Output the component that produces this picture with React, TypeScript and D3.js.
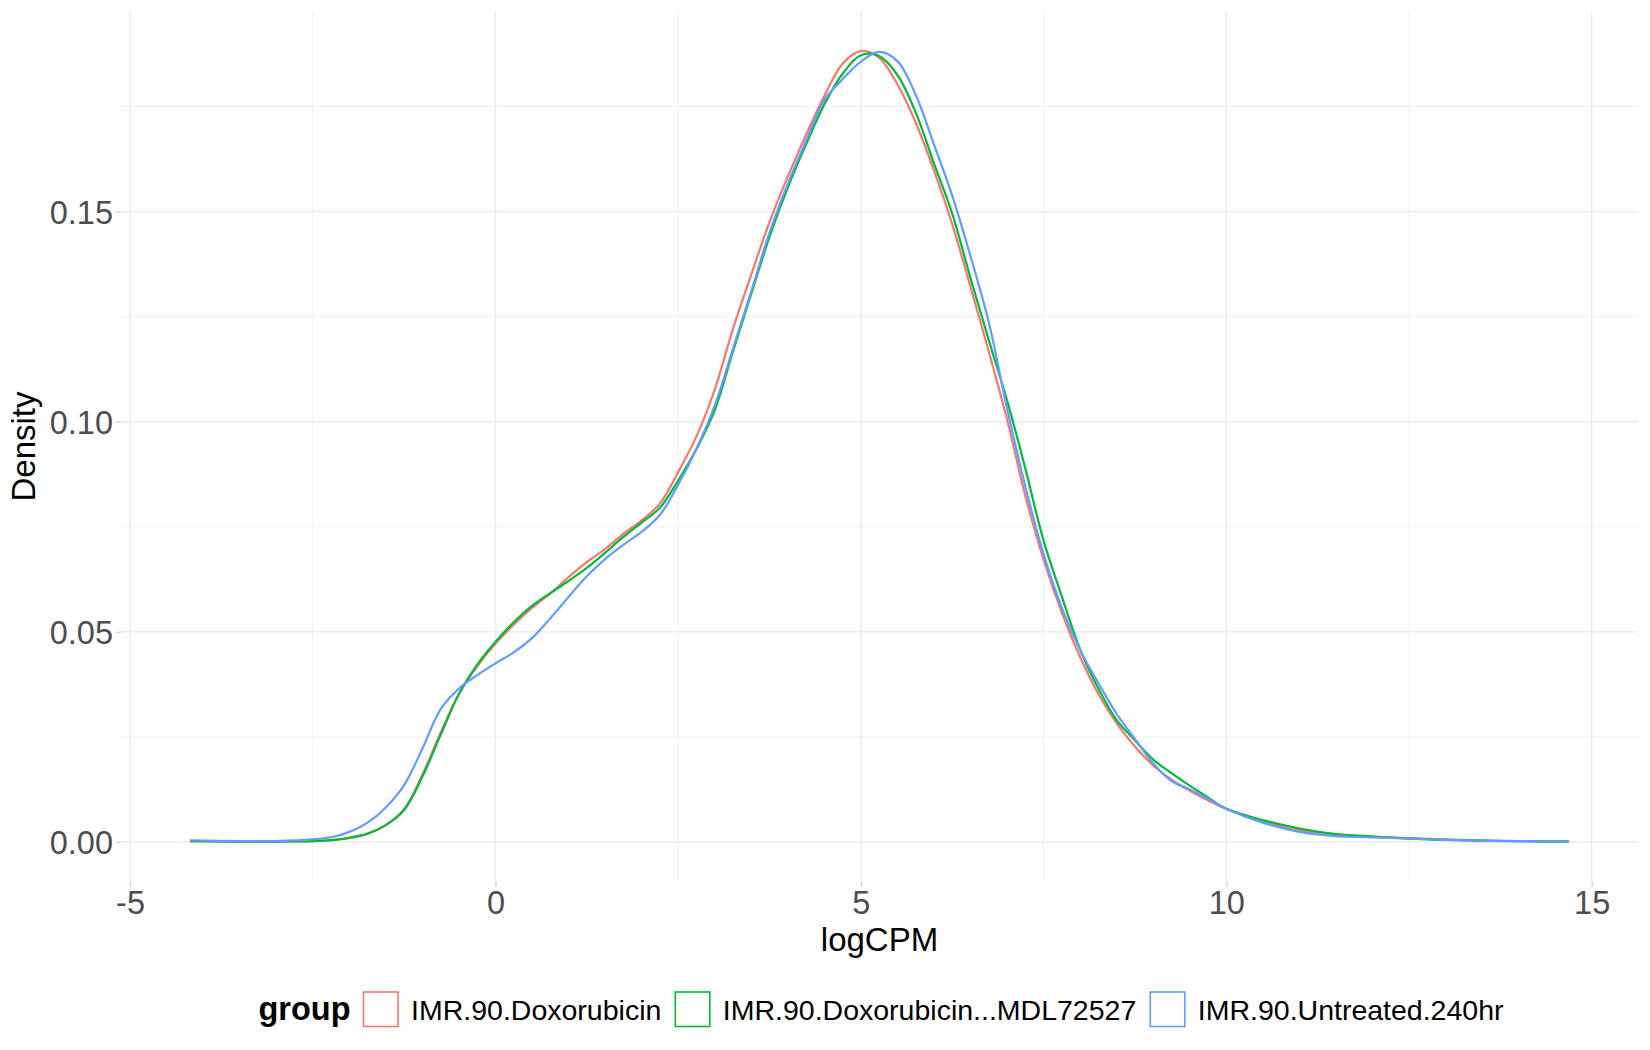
import React, { useEffect, useRef } from 'react';
import * as d3 from 'd3';

// logCPM grid shared by the three density curves
const logCPM = [
    -4.18, -3.5, -3, -2.5, -2.2, -2, -1.75, -1.5, -1.25, -1, -0.75, -0.5, -0.25, 0,
    0.25, 0.5, 0.75, 1, 1.25, 1.5, 1.75, 2, 2.25, 2.5, 2.75, 3, 3.25, 3.5, 3.75, 4,
    4.25, 4.5, 4.75, 5, 5.25, 5.5, 5.75, 6, 6.25, 6.5, 6.75, 7, 7.25, 7.5, 7.75, 8,
    8.25, 8.5, 8.75, 9, 9.25, 9.5, 9.75, 10, 10.5, 11, 11.5, 12, 12.5, 13, 13.5, 14,
    14.69,
];

const doxorubicin = [
    0.0002, 0.0001, 0.0001, 0.0002, 0.0005, 0.0009, 0.0019, 0.004, 0.0078, 0.016,
    0.026, 0.0352, 0.0418, 0.0472, 0.0517, 0.0557, 0.0591, 0.063, 0.0666, 0.0697,
    0.0733, 0.0765, 0.0805, 0.088, 0.0965, 0.1076, 0.1221, 0.135, 0.1475, 0.1583,
    0.1683, 0.1775, 0.1852, 0.1882, 0.1866, 0.1803, 0.1712, 0.1598, 0.147, 0.1321,
    0.1167, 0.1006, 0.0824, 0.0672, 0.0546, 0.044, 0.0352, 0.0282, 0.0227, 0.0182,
    0.0148, 0.0122, 0.0099, 0.0079, 0.0049, 0.0028, 0.0018, 0.0013, 0.0009, 0.0006,
    0.0003, 0.0002, 0.0001,
];

const doxorubicinMdl = [
    0.0002, 0.0001, 0.0001, 0.0002, 0.0005, 0.001, 0.002, 0.004, 0.0076, 0.0155,
    0.0255, 0.0352, 0.0422, 0.0476, 0.0523, 0.0562, 0.0592, 0.0621, 0.0652, 0.0688,
    0.0726, 0.076, 0.0795, 0.086, 0.0935, 0.1027, 0.1167, 0.1304, 0.144, 0.1557,
    0.166, 0.1755, 0.1828, 0.1872, 0.187, 0.1825, 0.1736, 0.1615, 0.1495, 0.1342,
    0.1194, 0.1051, 0.0889, 0.0717, 0.0584, 0.0458, 0.0365, 0.029, 0.0242, 0.0196,
    0.0164, 0.0134, 0.0106, 0.0079, 0.0052, 0.0032, 0.0019, 0.0013, 0.0008, 0.0005,
    0.0003, 0.0002, 0.0001,
];

const untreated = [
    0.0004, 0.0002, 0.0002, 0.0006, 0.0013, 0.0024, 0.0046, 0.0082, 0.0135, 0.0222,
    0.0316, 0.0365, 0.0397, 0.0425, 0.0451, 0.0485, 0.0532, 0.0583, 0.0632, 0.0673,
    0.0707, 0.0738, 0.0778, 0.085, 0.0935, 0.1038, 0.1174, 0.131, 0.145, 0.1566,
    0.1668, 0.1765, 0.1815, 0.1857, 0.188, 0.1858, 0.1778, 0.166, 0.1538, 0.1394,
    0.1237, 0.1032, 0.0846, 0.0685, 0.0557, 0.0457, 0.0378, 0.0305, 0.0245, 0.0187,
    0.0145, 0.0125, 0.0103, 0.0079, 0.0046, 0.0024, 0.0014, 0.0011, 0.0008, 0.0005,
    0.0003, 0.0002, 0.0001,
];

const groups = ['IMR.90.Doxorubicin', 'IMR.90.Doxorubicin...MDL72527', 'IMR.90.Untreated.240hr'];
const groupColors = ['#F8766D', '#00BA38', '#619CFF'];
const seriesValues = [doxorubicin, doxorubicinMdl, untreated];

const xMajorTicks = [-5, 0, 5, 10, 15];
const xMinorTicks = [-2.5, 2.5, 7.5, 12.5];
const yMajorTicks = [0, 0.05, 0.1, 0.15];
const yMinorTicks = [0.025, 0.075, 0.125, 0.175];

const WIDTH = 1650;
const HEIGHT = 1050;
const FONT = '"Liberation Sans", Arial, Helvetica, sans-serif';

const DensityChart: React.FC = () => {
    const svgRef = useRef<SVGSVGElement | null>(null);

    useEffect(() => {
        if (svgRef.current) {
            drawChart();
        }
    }, []);

    const drawChart = () => {
        const panel = { left: 121, right: 1638, top: 11.5, bottom: 881.5 };

        d3.select(svgRef.current).selectAll('*').remove();
        const svg = d3.select(svgRef.current);

        // ggplot style 5% expansion of the data range
        const [xMin, xMax] = d3.extent(logCPM) as [number, number];
        const yMax = d3.max(seriesValues.flat()) as number;
        const xPad = (xMax - xMin) * 0.05;
        const yPad = yMax * 0.05;

        const x = d3
            .scaleLinear()
            .domain([xMin - xPad, xMax + xPad])
            .range([panel.left, panel.right]);
        const y = d3
            .scaleLinear()
            .domain([-yPad, yMax + yPad])
            .range([panel.bottom, panel.top]);

        // grid
        const grid = svg.append('g');
        grid.selectAll('.minor-x')
            .data(xMinorTicks)
            .enter()
            .append('line')
            .attr('x1', (d) => x(d))
            .attr('x2', (d) => x(d))
            .attr('y1', panel.top)
            .attr('y2', panel.bottom)
            .attr('stroke', '#F0F0F0')
            .attr('stroke-width', 1);
        grid.selectAll('.minor-y')
            .data(yMinorTicks)
            .enter()
            .append('line')
            .attr('x1', panel.left)
            .attr('x2', panel.right)
            .attr('y1', (d) => y(d))
            .attr('y2', (d) => y(d))
            .attr('stroke', '#F0F0F0')
            .attr('stroke-width', 1);
        grid.selectAll('.major-x')
            .data(xMajorTicks)
            .enter()
            .append('line')
            .attr('x1', (d) => x(d))
            .attr('x2', (d) => x(d))
            .attr('y1', panel.top)
            .attr('y2', panel.bottom)
            .attr('stroke', '#EBEBEB')
            .attr('stroke-width', 1.4);
        grid.selectAll('.major-y')
            .data(yMajorTicks)
            .enter()
            .append('line')
            .attr('x1', panel.left)
            .attr('x2', panel.right)
            .attr('y1', (d) => y(d))
            .attr('y2', (d) => y(d))
            .attr('stroke', '#EBEBEB')
            .attr('stroke-width', 1.4);

        // axes (ggplot prints a plain hyphen for negatives)
        const xAxis = d3
            .axisBottom(x)
            .tickValues(xMajorTicks)
            .tickSize(5.5)
            .tickPadding(4)
            .tickFormat((d) => String(d));
        const gx = svg
            .append('g')
            .attr('transform', `translate(0,${panel.bottom})`)
            .call(xAxis);
        gx.select('.domain').remove();
        gx.selectAll('line').attr('stroke', '#D4D4D4').attr('stroke-width', 1.4);
        gx.selectAll('text')
            .attr('fill', '#4D4D4D')
            .style('font-family', FONT)
            .style('font-size', '32.5px')
            .attr('dy', null)
            .attr('y', 32);

        const yAxis = d3
            .axisLeft(y)
            .tickValues(yMajorTicks)
            .tickSize(5.5)
            .tickPadding(2.5)
            .tickFormat(d3.format('.2f'));
        const gy = svg
            .append('g')
            .attr('transform', `translate(${panel.left},0)`)
            .call(yAxis);
        gy.select('.domain').remove();
        gy.selectAll('line').attr('stroke', '#D4D4D4').attr('stroke-width', 1.4);
        gy.selectAll('text')
            .attr('fill', '#4D4D4D')
            .style('font-family', FONT)
            .style('font-size', '32.5px')
            .attr('dy', '0.36em');

        // axis titles
        svg.append('text')
            .attr('x', (panel.left + panel.right) / 2)
            .attr('y', 951)
            .attr('text-anchor', 'middle')
            .style('font-family', FONT)
            .style('font-size', '33px')
            .attr('fill', '#000')
            .text('logCPM');
        svg.append('text')
            .attr('transform', `translate(35,${(panel.top + panel.bottom) / 2}) rotate(-90)`)
            .attr('text-anchor', 'middle')
            .style('font-family', FONT)
            .style('font-size', '33px')
            .attr('fill', '#000')
            .text('Density');

        // density curves
        const line = d3
            .line<number>()
            .x((d, i) => x(logCPM[i]))
            .y((d) => y(d))
            .curve(d3.curveCatmullRom.alpha(0.5));

        svg.append('g')
            .selectAll('path')
            .data(seriesValues)
            .enter()
            .append('path')
            .attr('d', (d) => line(d))
            .attr('fill', 'none')
            .attr('stroke', (d, i) => groupColors[i])
            .attr('stroke-width', 2.2)
            .attr('stroke-linejoin', 'round');

        // legend, measured then centred on the panel
        const legend = svg.append('g');
        const baseline = 1020;
        const keySize = 34.5;
        const title = legend
            .append('text')
            .attr('y', baseline)
            .style('font-family', FONT)
            .style('font-size', '32.5px')
            .style('font-weight', 'bold')
            .attr('fill', '#000')
            .text('group');
        let cursor = (title.node() as SVGTextElement).getComputedTextLength() + 13;

        groups.forEach((name, i) => {
            legend.append('rect')
                .attr('x', cursor)
                .attr('y', 992)
                .attr('width', keySize)
                .attr('height', keySize)
                .attr('fill', '#fff')
                .attr('stroke', groupColors[i])
                .attr('stroke-width', 1.6);
            cursor += keySize + 13;
            const label = legend
                .append('text')
                .attr('x', cursor)
                .attr('y', baseline)
                .style('font-family', FONT)
                .style('font-size', '28.5px')
                .attr('fill', '#000')
                .text(name);
            cursor += (label.node() as SVGTextElement).getComputedTextLength();
            if (i < groups.length - 1) cursor += 14;
        });

        legend.attr('transform', `translate(${881 - cursor / 2},0)`);
    };

    return (
        <svg
            ref={svgRef}
            width={WIDTH}
            height={HEIGHT}
            style={{ position: 'absolute', left: 0, top: 0, background: '#fff' }}
        ></svg>
    );
};

export default function App() {
    return <DensityChart />;
}
